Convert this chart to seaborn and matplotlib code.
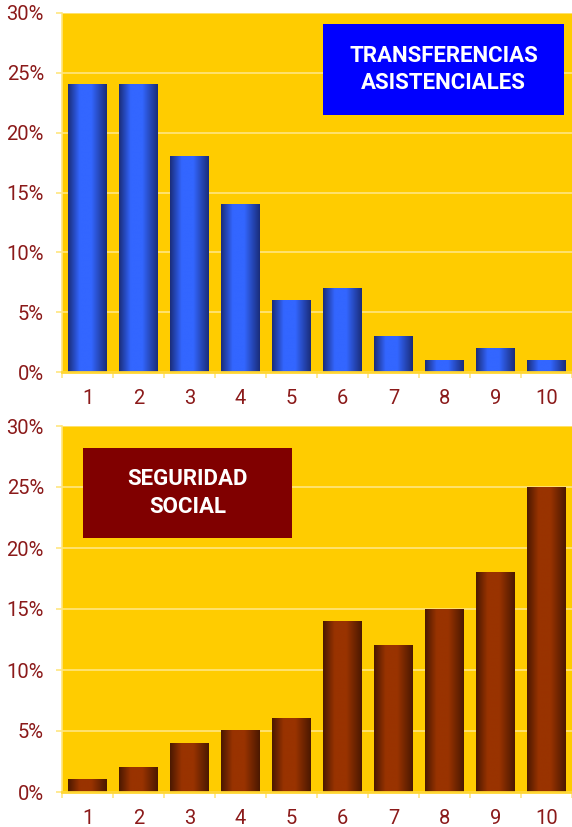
import numpy as np
import pandas as pd
import matplotlib
matplotlib.use("Agg")
import matplotlib.pyplot as plt
import seaborn as sns
from matplotlib.colors import LinearSegmentedColormap
from matplotlib.patches import Rectangle

# share of each transfer type received by income decile (%)
deciles = [str(i) for i in range(1, 11)]
asistenciales = [24, 24, 18, 14, 6, 7, 3, 1, 2, 1]
seguridad_social = [1, 2, 4, 5, 6, 14, 12, 15, 18, 25]
y_ticks = [0, 5, 10, 15, 20, 25, 30]
y_tick_labels = [f"{v}%" for v in y_ticks]

YELLOW = "#FFCC00"
GRID = "#FFE680"
LABEL = "#8B1A1A"

sns.set_style("white")
plt.rcParams["font.family"] = ["Roboto", "DejaVu Sans"]


def gradient_bars(ax, dark, bright):
    # replace flat seaborn bars with a horizontal shading, like the original
    cmap = LinearSegmentedColormap.from_list(
        "shade", [(0, dark), (0.3, bright), (0.6, bright), (1, dark)])
    grad = np.linspace(0, 1, 256).reshape(1, -1)
    for p in list(ax.patches):
        x0, y0 = p.get_x(), p.get_y()
        w, h = p.get_width(), p.get_height()
        ax.imshow(grad, cmap=cmap, extent=[x0, x0 + w, y0, y0 + h],
                  aspect="auto", zorder=2, interpolation="bilinear")
        p.set_visible(False)


def panel(fig, rect, values, dark, bright):
    ax = fig.add_axes(rect)
    df = pd.DataFrame({"decil": deciles, "pct": values})
    sns.barplot(data=df, x="decil", y="pct", ax=ax, width=0.75,
                color=bright, order=deciles)
    gradient_bars(ax, dark, bright)
    ax.set_facecolor(YELLOW)
    ax.set_xlim(-0.5, 9.31)
    ax.set_ylim(0, 30)
    ax.set_yticks(y_ticks)
    ax.set_yticklabels(y_tick_labels)
    ax.set_xlabel("")
    ax.set_ylabel("")
    ax.set_axisbelow(True)
    ax.yaxis.grid(True, color=GRID, linewidth=1.2)
    ax.xaxis.grid(False)
    ax.set_xticks(np.arange(-0.5, 10, 1), minor=True)
    ax.tick_params(axis="x", which="major", length=0, pad=12,
                   labelcolor=LABEL, labelsize=14.5)
    ax.tick_params(axis="x", which="minor", length=4, width=1.2,
                   color=GRID, direction="out", bottom=True)
    ax.tick_params(axis="y", length=4, width=1.2, color=GRID, left=True,
                   direction="out", pad=9, labelcolor=LABEL, labelsize=14.5)
    for s in ["top", "right"]:
        ax.spines[s].set_visible(False)
    ax.spines["left"].set_color(GRID)
    ax.spines["bottom"].set_color("#FFD633")
    ax.spines["left"].set_linewidth(1.2)
    ax.spines["bottom"].set_linewidth(2)
    return ax


fig = plt.figure(figsize=(5.72, 8.27), dpi=100)
fig.patch.set_facecolor("white")

left = 62 / 572
panel(fig, [left, 1 - 372 / 827, 1 - left, 359 / 827],
      asistenciales, "#1A2C78", "#3366FF")
panel(fig, [left, 1 - 792 / 827, 1 - left, 366 / 827],
      seguridad_social, "#4A1800", "#993300")

# label boxes
fig.patches.append(Rectangle((323 / 572, 1 - 115 / 827), 241 / 572, 91 / 827,
                             transform=fig.transFigure, facecolor="#0000FF",
                             edgecolor="none", zorder=5))
fig.text(443.5 / 572, 1 - 69.5 / 827, "TRANSFERENCIAS\nASISTENCIALES",
         ha="center", va="center", color="white", fontsize=16,
         fontweight="bold", linespacing=1.3, zorder=6)

fig.patches.append(Rectangle((83 / 572, 1 - 538 / 827), 209 / 572, 90 / 827,
                             transform=fig.transFigure, facecolor="#800000",
                             edgecolor="none", zorder=5))
fig.text(187.5 / 572, 1 - 493 / 827, "SEGURIDAD\nSOCIAL",
         ha="center", va="center", color="white", fontsize=16,
         fontweight="bold", linespacing=1.3, zorder=6)

fig.savefig("out.png", dpi=100, facecolor="white")
